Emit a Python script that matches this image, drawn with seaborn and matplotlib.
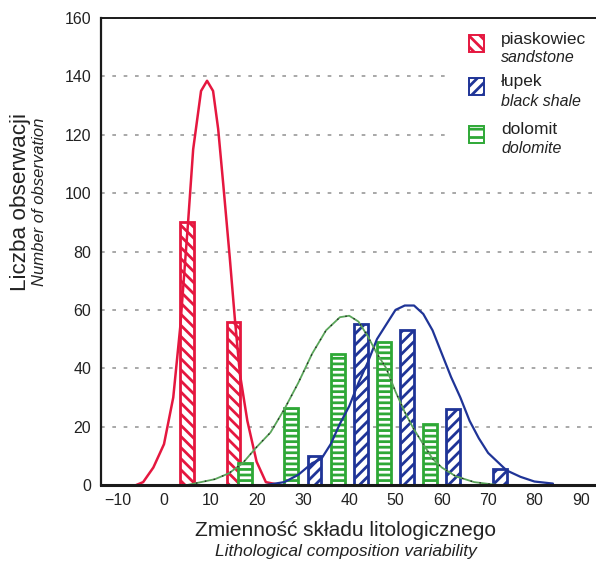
import matplotlib
matplotlib.use("Agg")
import matplotlib.pyplot as plt
import seaborn as sns
import pandas as pd
from matplotlib.patches import Rectangle

# class counts (bars)
sand_x = [5, 15]
sand_n = [90, 56]
sand_edge_x = [3.7]
sand_edge_n = [55]
shale_x = [32.5, 42.5, 52.5, 62.5, 72.5]
shale_n = [10, 55, 53, 26, 5.5]
dolo_x = [17.5, 27.5, 37.5, 47.5, 57.5]
dolo_n = [7.5, 26.5, 45, 49, 21]

# fitted curves
sand_cx = [-6, -4.5, -2.3, 0, 2, 3.5, 5.2, 6.3, 8, 9.3, 10.6, 11.7, 12.8, 14.2, 15.3, 16.4, 18, 20, 22, 25]
sand_cy = [0, 1, 6, 14, 30, 54, 90, 115, 135, 138.5, 135, 122, 103, 78, 57, 38, 22, 8, 1, 0]
shale_cx = [22, 26, 29, 32, 34, 36, 38, 40, 42, 44, 46, 48, 50, 52, 54, 56, 58, 60, 62, 64, 66, 68, 70, 72, 74, 77, 80, 84]
shale_cy = [0, 1, 3.5, 7.5, 9, 14, 21, 27, 35, 42, 50, 55, 60, 61.5, 61.5, 58.6, 53, 45, 37, 30, 22, 16, 11, 8, 5, 2.8, 1.2, 0.5]
dolo_cx = [5, 8, 11, 14, 17, 20, 23, 26, 29, 32, 35, 38, 40, 42, 44, 46, 48, 50, 52, 54, 56, 58, 60, 63, 67, 72]
dolo_cy = [0, 1, 2, 4, 7.5, 13, 18, 26, 35, 45, 53, 57.5, 58, 56, 51, 45, 40, 32, 25, 19, 14, 9, 6, 3, 1, 0]

x_ticks = list(range(-10, 100, 10))
y_ticks = list(range(0, 180, 20))

RED = "#e5173f"
BLUE = "#1f3497"
GREEN = "#2ea836"
TXT = "#222222"

sns.set_theme(style="white")
plt.rcParams["font.family"] = ["Liberation Sans", "DejaVu Sans"]
plt.rcParams["hatch.linewidth"] = 2.0

fig = plt.figure(figsize=(5.96, 5.63), dpi=100)
ax = fig.add_axes([0.1695, 0.1385, 0.8305, 0.8295])

# bars
ax.bar(sand_edge_x, sand_edge_n, width=0.5, color=RED, zorder=2)
ax.bar(sand_x, sand_n, width=3, facecolor="white", edgecolor=RED, hatch="\\\\\\", linewidth=2, zorder=3)
ax.bar(dolo_x, dolo_n, width=3, facecolor="white", edgecolor=GREEN, hatch="---", linewidth=2, zorder=3)
ax.bar(shale_x, shale_n, width=3, facecolor="white", edgecolor=BLUE, hatch="///", linewidth=2, zorder=3)

# curves
curves = pd.DataFrame({"x": sand_cx, "y": sand_cy})
sns.lineplot(data=curves, x="x", y="y", color=RED, lw=1.8, ax=ax, zorder=4)
curves = pd.DataFrame({"x": shale_cx, "y": shale_cy})
sns.lineplot(data=curves, x="x", y="y", color=BLUE, lw=1.6, ax=ax, zorder=4)
curves = pd.DataFrame({"x": dolo_cx, "y": dolo_cy})
sns.lineplot(data=curves, x="x", y="y", color="#5aa55a", lw=1.3, ax=ax, zorder=4)
sns.lineplot(data=curves, x="x", y="y", color="#222222", lw=0.9, ls=(0, (1.2, 6)), ax=ax, zorder=4)

ax.set_xlim(-13.6, 93.3)
ax.set_ylim(0, 159.5)
ax.set_xticks(x_ticks)
ax.set_yticks(y_ticks)
ax.set_xlabel("")
ax.set_ylabel("")
ax.tick_params(axis="x", direction="in", length=4, width=1.5, color="#111111",
               labelsize=11.5, pad=6, labelcolor=TXT)
ax.tick_params(axis="y", length=0, labelsize=11.5, pad=7, labelcolor=TXT)
ax.yaxis.grid(True, color="#9a9a9a", lw=1.2, ls=(0, (2.2, 4.6)))
ax.set_axisbelow(True)

for side in ["left", "top", "bottom"]:
    ax.spines[side].set_color("#1a1a1a")
    ax.spines[side].set_zorder(10)
ax.spines["left"].set_linewidth(1.6)
ax.spines["top"].set_linewidth(1.4)
ax.spines["bottom"].set_linewidth(2.2)
ax.spines["right"].set_visible(False)

# legend drawn by hand
ax.add_patch(Rectangle((0.695, 0.696), 0.305, 0.304, transform=ax.transAxes,
                       facecolor="white", edgecolor="none", zorder=5))
entries = [("piaskowiec", "sandstone", RED, "\\\\\\", 0.927, 0.955, 0.9165),
           ("łupek", "black shale", BLUE, "///", 0.835, 0.863, 0.822),
           ("dolomit", "dolomite", GREEN, "--", 0.732, 0.762, 0.7216)]
for pl, en, col, hat, y0, ty1, ty2 in entries:
    ax.add_patch(Rectangle((0.743, y0), 0.031, 0.037, transform=ax.transAxes,
                           facecolor="white", edgecolor=col, hatch=hat, lw=1.4, zorder=6))
    ax.text(0.808, ty1, pl, transform=ax.transAxes, fontsize=12.5, color=TXT,
            va="center", ha="left", zorder=7)
    ax.text(0.808, ty2, en, transform=ax.transAxes, fontsize=11.5, style="italic",
            color=TXT, va="center", ha="left", zorder=7)

# axis titles (two languages)
fig.text(0.034, 0.641, "Liczba obserwacji", rotation=90, fontsize=16.2, color=TXT,
         ha="center", va="center")
fig.text(0.066, 0.641, "Number of observation", rotation=90, fontsize=12, style="italic",
         color=TXT, ha="center", va="center")
fig.text(0.58, 0.057, "Zmienność składu litologicznego", fontsize=15, color=TXT,
         ha="center", va="center")
fig.text(0.58, 0.021, "Lithological composition variability", fontsize=12.5, style="italic",
         color=TXT, ha="center", va="center")

fig.savefig("out.png", dpi=100)
